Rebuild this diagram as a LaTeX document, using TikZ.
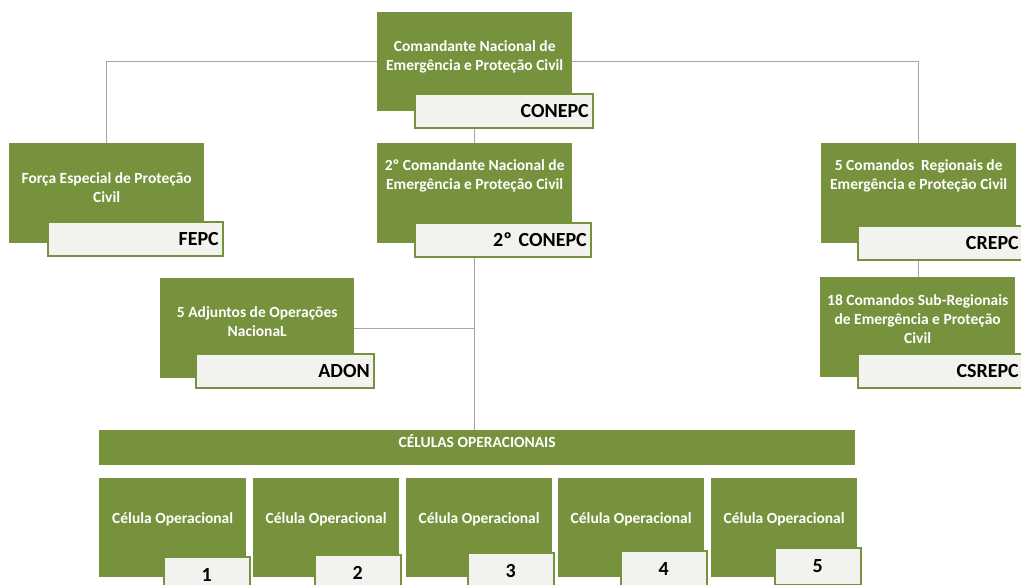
\documentclass[tikz,border=0pt]{standalone}
\usepackage{fontspec}
\setmainfont{Carlito}
\usetikzlibrary{positioning,backgrounds}
\definecolor{olive}{HTML}{76923C}
\definecolor{tagfill}{HTML}{F2F2EE}
\definecolor{linegray}{HTML}{A6A6A6}
\begin{document}
\begin{tikzpicture}[x=1pt, y=-1pt,
    unit/.style={fill=olive, draw=none, rectangle, inner sep=0pt, anchor=north west},
    unittext/.style={text=white, align=center, inner sep=0pt, font=\fontsize{15.5}{19}\selectfont\bfseries},
    tag/.style={fill=tagfill, draw=olive, line width=1.6pt, rectangle, anchor=north west,
        inner xsep=4pt, inner ysep=0pt, align=right, font=\fontsize{20}{23}\selectfont\bfseries},
    numtag/.style={tag, align=center, inner xsep=0pt, text width=86pt, minimum height=37pt},
    link/.style={draw=linegray, line width=0.9pt}]
    \clip (0,0) rectangle (1021,585);

    % --- Comando nacional ---
    \node[unit, minimum width=195pt, minimum height=99pt] (conepc) at (377,12) {};
    \node[unittext] (conepc-t) at ([yshift=5pt]conepc.center)
        {Comandante Nacional de\\Emergência e Proteção Civil};
    \node[tag, text width=170pt, minimum height=34pt] (conepc-tag) at (414,93) {CONEPC};

    % --- FEPC ---
    \node[unit, minimum width=195pt, minimum height=100pt] (fepc) at (9,143) {};
    \node[unittext] (fepc-t) at ([yshift=6pt]fepc.center)
        {Força Especial de Proteção\\Civil};
    \node[tag, text width=167pt, minimum height=34pt] (fepc-tag) at (47,221) {FEPC};

    % --- 2º comandante ---
    \node[unit, minimum width=195pt, minimum height=100pt] (conepc2) at (377,143) {};
    \node[unittext] (conepc2-t) at ([yshift=17pt]conepc2.center)
        {2º Comandante Nacional de\\Emergência e Proteção Civil};
    \node[tag, text width=168pt, minimum height=34pt] (conepc2-tag) at (414,222) {2º CONEPC};

    % --- Comandos regionais ---
    \node[unit, minimum width=195pt, minimum height=100pt] (crepc) at (821,143) {};
    \node[unittext] (crepc-t) at ([yshift=17pt]crepc.center)
        {5 Comandos\ \ Regionais de\\Emergência e Proteção Civil};
    \node[tag, text width=157pt, minimum height=34pt] (crepc-tag) at (857,225) {CREPC};

    \node[unit, minimum width=195pt, minimum height=100pt] (csrepc) at (820,277) {};
    \node[unittext] (csrepc-t) at ([yshift=8pt]csrepc.center)
        {18 Comandos Sub-Regionais\\de Emergência e Proteção\\Civil};
    \node[tag, text width=157pt, minimum height=34pt] (csrepc-tag) at (857,353) {CSREPC};

    % --- ADON ---
    \node[unit, minimum width=194pt, minimum height=100pt] (adon) at (160,278) {};
    \node[unittext] (adon-t) at ([yshift=7pt]adon.center)
        {5 Adjuntos de Operações\\NacionaL};
    \node[tag, text width=170pt, minimum height=34pt] (adon-tag) at (195,353) {ADON};

    % --- Células operacionais ---
    \node[unit, minimum width=756pt, minimum height=35pt] (celulas) at (99,430) {};
    \node[unittext] (celulas-t) at ([yshift=7pt]celulas.center) {CÉLULAS OPERACIONAIS};

    \node[unit, minimum width=147pt, minimum height=99pt] (cel1) at (99,478) {};
    \node[unit, minimum width=146pt, minimum height=99pt] (cel2) at (253,478) {};
    \node[unit, minimum width=146pt, minimum height=99pt] (cel3) at (406,478) {};
    \node[unit, minimum width=146pt, minimum height=99pt] (cel4) at (558,478) {};
    \node[unit, minimum width=146pt, minimum height=99pt] (cel5) at (711,478) {};
    \foreach \c in {1,...,5}
        \node[unittext] (cel\c-t) at ([yshift=8pt]cel\c.center) {Célula Operacional};

    \node[numtag] (cel1-tag) at (163,556) {1};
    \node[numtag] (cel2-tag) at (314,554) {2};
    \node[numtag] (cel3-tag) at (467,552) {3};
    \node[numtag] (cel4-tag) at (620,550) {4};
    \node[numtag] (cel5-tag) at (774,547) {5};

    % --- Ligações ---
    \begin{scope}[on background layer]
        \draw[link] (fepc.north) |- (conepc.west);
        \draw[link] (crepc.north) |- (conepc.east);
        \draw[link] (conepc.south) -- (conepc2.north);
        \draw[link] (conepc2.south) -- (celulas.north -| conepc2.south);
        \draw[link] (adon.east) -- (adon.east -| conepc2.south);
        \draw[link] (crepc.south) -- (csrepc.north -| crepc.south);
    \end{scope}
\end{tikzpicture}
\end{document}
